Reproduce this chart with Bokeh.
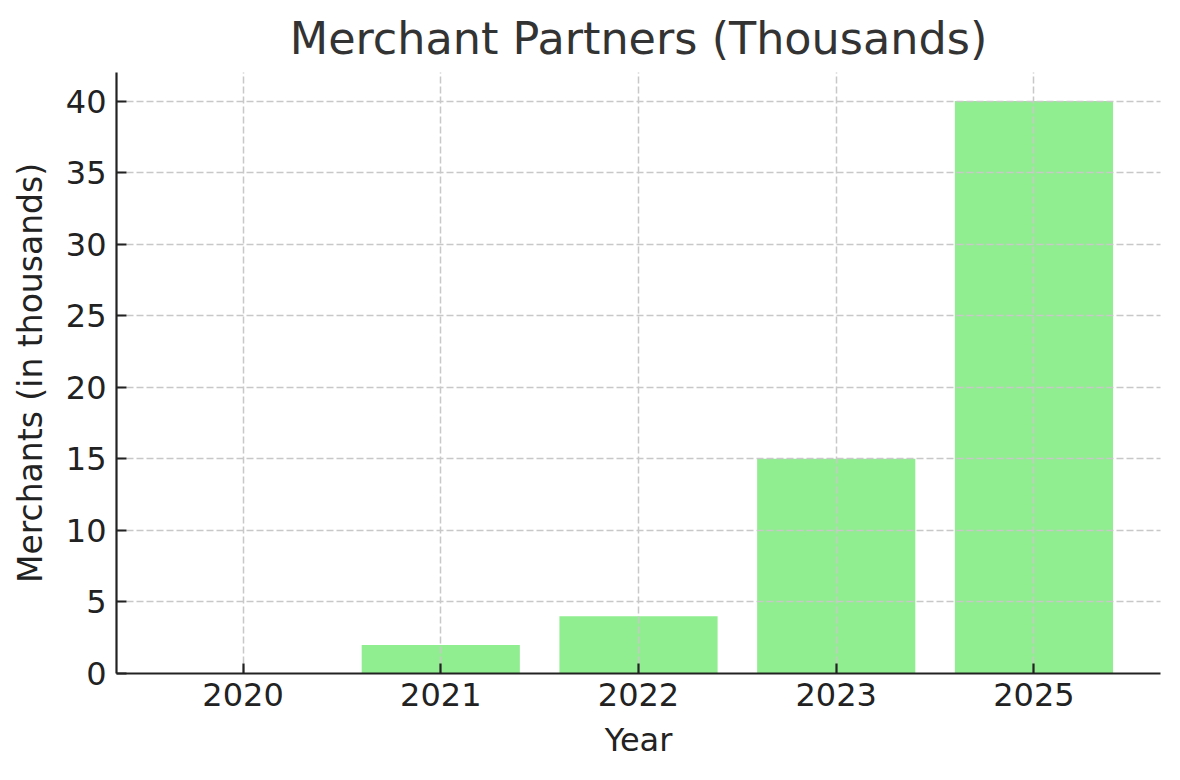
from bokeh.plotting import figure
from bokeh.models import FactorRange, Range1d, FixedTicker
from bokeh.embed import file_html
from bokeh.resources import INLINE

years = ["2020", "2021", "2022", "2023", "2025"]
merchants = [0, 2, 4, 15, 40]
y_ticks = [0, 5, 10, 15, 20, 25, 30, 35, 40]

FONT = "DejaVu Sans"

p = figure(
    width=1164, height=764,
    x_range=FactorRange(factors=years, range_padding=0.14, range_padding_units="absolute"),
    y_range=Range1d(0, 42),
    output_backend="svg", toolbar_location=None,
    title="Merchant Partners (Thousands)",
    min_border_left=116, min_border_right=4, min_border_top=72, min_border_bottom=91,
)
p.outline_line_color = None
p.background_fill_color = "white"
p.border_fill_color = "white"

p.vbar(x=years, top=merchants, width=0.8, fill_color="#90EE90", line_color=None)

p.title.text_font = FONT
p.title.text_font_size = "44.5px"
p.title.text_font_style = "normal"
p.title.text_color = "#333333"
p.title.align = "center"
p.title.standoff = 17

for ax in (p.xaxis[0], p.yaxis[0]):
    ax.level = "annotation"
    ax.axis_line_color = "#222222"
    ax.axis_line_width = 2.2
    ax.major_tick_line_color = "#222222"
    ax.major_tick_line_width = 2.2
    ax.major_tick_in = 10
    ax.major_tick_out = 0
    ax.minor_tick_line_color = None
    ax.major_label_text_font = FONT
    ax.major_label_text_font_size = "32px"
    ax.major_label_text_color = "#222222"
    ax.axis_label_text_font = FONT
    ax.axis_label_text_font_size = "32px"
    ax.axis_label_text_font_style = "normal"
    ax.axis_label_text_color = "#222222"

p.yaxis.axis_label_text_font_size = "33px"
p.xaxis.major_label_standoff = 9
p.yaxis.major_label_standoff = 10
p.xaxis.axis_label = "Year"
p.yaxis.axis_label = "Merchants (in thousands)"
p.yaxis.ticker = FixedTicker(ticks=y_ticks)
p.xaxis.axis_label_standoff = 12
p.yaxis.axis_label_standoff = 13

for g in (p.xgrid[0], p.ygrid[0]):
    g.grid_line_color = "#c8c8c8"
    g.grid_line_width = 1.5
    g.grid_line_dash = "7 3"
    g.level = "guide"
p.ygrid.ticker = FixedTicker(ticks=y_ticks)

open("out.html", "w").write(file_html(p, INLINE))
